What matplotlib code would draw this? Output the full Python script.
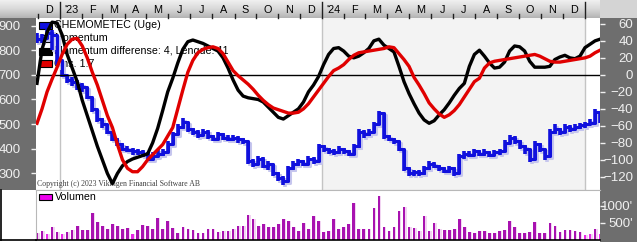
import matplotlib.pyplot as plt
import matplotlib.transforms as mtransforms
from matplotlib.colors import LinearSegmentedColormap
from matplotlib.patches import Rectangle
from matplotlib.lines import Line2D
import numpy as np

# Weekly data, CHEMOMETEC (Uge)
first_week = '2022-11-30'
close = [845, 850, 870, 860, 760, 700, 680, 670, 660, 650, 610, 560, 520, 500, 470, 440, 420, 400, 395, 390,
         385, 380, 360, 370, 380, 385, 420, 460, 490, 510, 480, 470, 455, 470, 450, 440, 460, 445, 440, 445,
         440, 430, 350, 340, 360, 330, 340, 300, 280, 270, 320, 340, 350, 340, 360, 350, 410, 400, 390, 385,
         400, 390, 380, 410, 470, 460, 470, 500, 545, 450, 440, 430, 400, 320, 300, 305, 300, 320, 340, 330,
         320, 310, 320, 300, 370, 380, 375, 390, 380, 385, 375, 385, 390, 425, 445, 430, 410, 400, 360, 420,
         400, 370, 470, 480, 470, 490, 480, 490, 495, 500, 505, 550, 520]
high = [870, 865, 885, 880, 800, 720, 700, 690, 680, 665, 650, 610, 560, 525, 500, 470, 445, 425, 410, 405,
        400, 395, 385, 385, 400, 400, 430, 470, 500, 525, 510, 485, 475, 480, 475, 455, 470, 465, 455, 455,
        450, 445, 430, 360, 370, 365, 350, 340, 305, 290, 330, 350, 360, 355, 370, 365, 420, 415, 405, 400,
        410, 405, 395, 420, 480, 475, 480, 510, 555, 545, 455, 445, 430, 400, 325, 315, 315, 330, 350, 345,
        335, 325, 330, 325, 380, 390, 390, 400, 395, 400, 390, 395, 400, 435, 455, 450, 435, 415, 400, 430,
        425, 400, 480, 500, 485, 500, 495, 500, 505, 510, 520, 560, 550]
low = [830, 830, 850, 800, 740, 690, 665, 655, 640, 630, 600, 550, 510, 485, 460, 430, 410, 390, 385, 375,
       375, 365, 350, 355, 370, 370, 385, 415, 455, 480, 470, 455, 445, 450, 440, 430, 435, 435, 430, 430,
       425, 420, 340, 325, 335, 320, 315, 290, 270, 255, 265, 315, 330, 330, 335, 340, 345, 385, 380, 375,
       380, 380, 370, 375, 405, 445, 450, 465, 495, 440, 430, 420, 390, 310, 290, 290, 290, 295, 315, 320,
       310, 300, 300, 290, 300, 360, 365, 370, 370, 370, 365, 370, 375, 385, 420, 420, 400, 380, 345, 355,
       385, 355, 365, 460, 455, 465, 470, 475, 480, 485, 495, 500, 505]
momentum = [-10, 30, 50, 62, 61, 47, 24, 8, -8, -30, -48, -66, -84, -100, -116, -128, -116, -107, -102, -99,
            -97, -95, -93, -80, -63, -42, -20, -4, 14, 30, 39, 41, 39, 37, 34, 31, 28, 20, 8, -6,
            -18, -25, -27, -28, -29, -32, -38, -44, -50, -52, -48, -44, -40, -32, -20, -12, -2, 12, 24, 31,
            32, 28, 22, 20, 22, 26, 31, 40, 42, 35, 31, 27, 10, -8, -22, -34, -45, -53, -57, -54,
            -47, -41, -33, -24, -16, -10, 10, 24, 29, 22, 14, 8, 9, 15, 28, 34, 33, 28, 16, 9,
            9, 9, 10, 18, 21, 23, 20, 19, 22, 32, 36, 40, 42]
signal = [-57, -40, -20, -5, 9, 24, 36, 42, 43, 34, 20, 3, -12, -30, -48, -62, -82, -100, -110, -114,
          -114, -108, -100, -94, -88, -82, -72, -62, -40, -18, 3, 17, 26, 30, 32, 33, 31, 25, 15, 5,
          -1, -6, -11, -17, -24, -30, -35, -39, -41, -43, -45, -45, -44, -40, -34, -26, -18, -10, -2, 5,
          8, 12, 18, 23, 26, 27, 28, 29, 30, 31, 33, 32, 25, 18, 10, -3, -12, -22, -33, -40,
          -46, -50, -47, -42, -35, -26, -17, -8, -4, 8, 14, 16, 17, 18, 19, 20, 21, 22, 23, 24,
          22, 19, 16, 15, 15, 16, 17, 18, 19, 20, 22, 26, 29]
volume = [215, 265, 185, 380, 235, 185, 245, 285, 410, 285, 285, 795, 530, 420, 330, 470, 410, 330, 360, 185,
          285, 440, 410, 330, 655, 330, 560, 360, 215, 380, 330, 285, 215, 215, 315, 315, 245, 265, 265, 330,
          420, 420, 735, 620, 420, 470, 390, 390, 470, 620, 560, 390, 265, 500, 330, 705,
          560, 245, 265, 620, 330, 380, 470, 1090, 330, 330, 330, 950, 1300, 390, 265, 390, 850, 980, 390, 360,
          265, 705, 265, 500, 330, 285, 285, 330, 620, 390, 245, 215, 265, 265, 195, 195, 265, 295, 560, 380,
          195, 215, 245, 530, 215, 215, 500, 420, 245, 285, 295, 265, 245, 150, 185, 330, 185]
pink_weeks = [2, 5, 19, 109, 110, 112]

month_labels = ["D", "'23", "F", "M", "A", "M", "J", "J", "A", "S", "O", "N", "D",
                "'24", "F", "M", "A", "M", "J", "J", "A", "S", "O", "N", "D"]
month_starts = ['2022-12-01', '2023-01-01', '2023-02-01', '2023-03-01', '2023-04-01', '2023-05-01',
                '2023-06-01', '2023-07-01', '2023-08-01', '2023-09-01', '2023-10-01', '2023-11-01',
                '2023-12-01', '2024-01-01', '2024-02-01', '2024-03-01', '2024-04-01', '2024-05-01',
                '2024-06-01', '2024-07-01', '2024-08-01', '2024-09-01', '2024-10-01', '2024-11-01',
                '2024-12-01', '2025-01-01']
year_starts = ['2023-01-01', '2024-01-01', '2025-01-01']
price_ticks = [300, 400, 500, 600, 700, 800, 900]
mom_ticks = [-120, -100, -80, -60, -40, -20, 0, 20, 40, 60]

legend_rows = [('CHEMOMETEC (Uge)', '#1010e0'), ('Momentum', '#000000'),
               ('Momentum differense: 4, Lengde: 11', '#000000'), ('Gns. 1.7', '#e00000')]

origin = np.datetime64('2023-01-01')
days = (np.datetime64(first_week) - origin).astype(int) + 7 * np.arange(len(close))
mdays = (np.array(month_starts, dtype='datetime64[D]') - origin).astype(int)
ydays = (np.array(year_starts, dtype='datetime64[D]') - origin).astype(int)

W, H = 637, 242
panel = '#6e6e6e'
plt.rcParams['font.family'] = ['Liberation Sans', 'DejaVu Sans']
narrow = ['Liberation Sans Narrow', 'Liberation Sans', 'DejaVu Sans']


def box(x0, y0, x1, y1):
    # pixel box (top-left origin) -> figure fraction
    return [x0 / W, 1 - y1 / H, (x1 - x0) / W, (y1 - y0) / H]


fig = plt.figure(figsize=(W / 100, H / 100), dpi=100)
fig.patch.set_facecolor('white')

# gray side panels
for b in [box(0, 18, 36, 190), box(600, 18, 637, 242)]:
    fig.add_artist(Rectangle((b[0], b[1]), b[2], b[3], transform=fig.transFigure,
                             facecolor=panel, edgecolor='none', zorder=-2))
b = box(600, 0, 637, 18)
fig.add_artist(Rectangle((b[0], b[1]), b[2], b[3], transform=fig.transFigure,
                         facecolor='#d4d4d4', edgecolor='none', zorder=-2))

# header gradient
hax = fig.add_axes(box(0, 0, 600, 18))
grad = LinearSegmentedColormap.from_list('hdr', ['#f0f0f0', '#d8d8d8', '#b4b4b4'])
hax.imshow(np.linspace(0, 1, 32)[:, None], aspect='auto', cmap=grad, extent=[0, 1, 0, 1])
hax.axis('off')

# main panel
ax = fig.add_axes(box(36, 18, 600, 190))
xl = (-33.4, 751.9)
ax.set_xlim(*xl)
ax.set_ylim(232.7, 930.6)
ax.axvspan(ydays[1], ydays[2], color='#f3f3f3', zorder=0, lw=0)
for d in ydays:
    ax.axvline(d, color='#c4c4c4', lw=1, zorder=0.5)
ax.set_xticks([])
ax.set_yticks(price_ticks)
ax.tick_params(axis='y', length=3.5, width=1, color='#f0f0f0', labelcolor='#f0f0f0',
               labelsize=9.5, pad=7.5)
for lbl in ax.get_yticklabels():
    lbl.set_family(narrow)
for s in ['left', 'right']:
    ax.spines[s].set_visible(False)
ax.spines['top'].set_visible(False)
ax.spines['bottom'].set_color('#b8b8b8')

# legend and copyright (under the data)
for k, (txt, col) in enumerate(legend_rows):
    yc = 25.5 + 12.8 * k
    ax.add_patch(Rectangle(((39 - 36) / 564, (190 - yc - 3.5) / 172), 13 / 564, 7 / 172,
                           transform=ax.transAxes, facecolor=col, edgecolor='black', lw=0.8,
                           zorder=1, clip_on=False))
    ax.text((54 - 36) / 564, (190 - yc) / 172, txt, transform=ax.transAxes, fontsize=7.7,
            va='center', ha='left', color='black', zorder=1)
ax.text((37 - 36) / 564, (190 - 184) / 172, 'Copyright (c) 2023 Vikingen Financial Software AB',
        transform=ax.transAxes, fontsize=5.6, family=['Liberation Serif', 'DejaVu Serif'],
        color='#404040', va='center', ha='left', zorder=1)

# price bars with shadow
shadow = mtransforms.offset_copy(ax.transData, fig=fig, x=2, y=-2, units='dots')
ax.vlines(days, low, high, color='#c6c6ee', lw=2.6, transform=shadow, zorder=2)
ax.step(days, close, where='post', color='#c6c6ee', lw=2.2, transform=shadow, zorder=2)
ax.vlines(days, low, high, color='#1010dd', lw=2.6, zorder=3)
ax.step(days, close, where='post', color='#1010dd', lw=2.2, zorder=3)

# momentum lines
ax2 = ax.twinx()
ax2.set_xlim(*xl)
ax2.set_ylim(-135.5, 66.9)
ax2.axhline(0, color='black', lw=1, zorder=1)
ax2.plot(days, momentum, color='black', lw=2.4, zorder=3)
ax2.plot(days, signal, color='#e00000', lw=2.4, zorder=4)
ax2.set_yticks(mom_ticks)
ax2.tick_params(axis='y', length=3.5, width=1, color='#f0f0f0', labelcolor='#f0f0f0',
                labelsize=9.5, pad=20.5)
for lbl in ax2.get_yticklabels():
    lbl.set_family(narrow)
    lbl.set_horizontalalignment('right')
for s in ax2.spines.values():
    s.set_visible(False)

# header month labels and ticks
hdr = mtransforms.blended_transform_factory(ax.transData, fig.transFigure)
for i, lab in enumerate(month_labels):
    xm = (mdays[i] + mdays[i + 1]) / 2
    ax.text(xm, 1 - 10 / H, lab, transform=hdr, ha='center', va='center', fontsize=7.8,
            color='black', clip_on=False)
for d in mdays:
    if d in ydays:
        ax.add_artist(Line2D([d, d], [1 - 2 / H, 1 - 18 / H], transform=hdr, color='#202020',
                             lw=1, clip_on=False))
    else:
        ax.add_artist(Line2D([d, d], [1 - 14 / H, 1 - 17.5 / H], transform=hdr, color='#202020',
                             lw=1, clip_on=False))

# volume panel
vax = fig.add_axes(box(36, 190, 600, 240))
vax.set_xlim(*xl)
vax.set_ylim(0, 1470)
colors = ['#e828e8' if i in pink_weeks else '#a812b0' for i in range(len(volume))]
vax.bar(days + 1, volume, width=5, color='#f2d4f2', zorder=1)
vax.bar(days, volume, width=3.6, color=colors, zorder=2)
vax.set_xticks([])
vax.yaxis.tick_right()
vax.set_yticks([500, 1000])
vax.set_yticklabels(["500'", "1000'"])
vax.tick_params(axis='y', length=3.5, width=1, color='#f0f0f0', labelcolor='#f0f0f0',
                labelsize=9.5, pad=20.5)
for lbl in vax.get_yticklabels():
    lbl.set_family(narrow)
    lbl.set_horizontalalignment('right')
vax.spines['right'].set_visible(False)
vax.spines['top'].set_color('#b8b8b8')
vax.spines['left'].set_color('#b8b8b8')
vax.spines['bottom'].set_color('black')
vax.spines['bottom'].set_linewidth(1.2)
vax.add_patch(Rectangle((3 / 564, (50 - 9.5) / 50), 13 / 564, 6 / 50, transform=vax.transAxes,
                        facecolor='#ee00ee', edgecolor='black', lw=0.8, zorder=3))
vax.text(19 / 564, (50 - 6.5) / 50, 'Volumen', transform=vax.transAxes, fontsize=7.7,
         va='center', ha='left', color='black', zorder=3)

# outer border of the lower-left corner
fig.add_artist(Line2D([0.5 / W, 0.5 / W], [1 - 190 / H, 1 - 240 / H], transform=fig.transFigure,
                      color='black', lw=1.2))
fig.add_artist(Line2D([0, 36 / W], [1 - 240 / H, 1 - 240 / H], transform=fig.transFigure,
                      color='black', lw=1.2))

fig.savefig('out.png', dpi=100)
